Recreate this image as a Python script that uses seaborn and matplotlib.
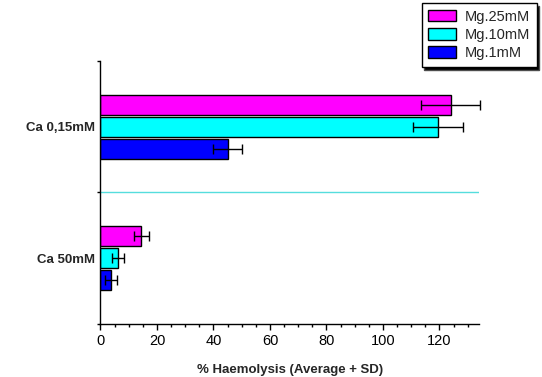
import numpy as np
import pandas as pd
import matplotlib
matplotlib.use("Agg")
import matplotlib.pyplot as plt
from matplotlib.ticker import MultipleLocator, FixedLocator
import seaborn as sns

# Data
calcium = ["Ca 0,15mM", "Ca 50mM"]
magnesium = ["Mg.25mM", "Mg.10mM", "Mg.1mM"]
mean_mg25 = [124.0, 14.5]
mean_mg10 = [119.6, 6.2]
mean_mg1 = [45.0, 3.8]
sd_mg25 = [10.5, 2.5]
sd_mg10 = [8.8, 2.0]
sd_mg1 = [5.2, 2.1]
colors = ["#ff00ff", "#00ffff", "#0000ff"]

df = pd.DataFrame({
    "calcium": calcium * 3,
    "magnesium": np.repeat(magnesium, len(calcium)),
    "haemolysis": mean_mg25 + mean_mg10 + mean_mg1,
    "sd": sd_mg25 + sd_mg10 + sd_mg1,
})

sns.set_style("white")
plt.rcParams["font.family"] = ["Liberation Sans", "DejaVu Sans"]

fig = plt.figure(figsize=(5.42, 3.77), dpi=100)
ax = fig.add_axes([0.1854, 0.1406, 0.6984, 0.6976])

sns.barplot(
    data=df, x="haemolysis", y="calcium", hue="magnesium",
    order=calcium, hue_order=magnesium, palette=colors,
    orient="h", errorbar=None, width=0.504, gap=0.09,
    edgecolor="black", linewidth=1.0, saturation=1, ax=ax, legend=False,
)

# error bars (mean + SD) placed on seaborn's bars
for cont, lvl in zip(ax.containers, magnesium):
    sub = df[df["magnesium"] == lvl].set_index("calcium").loc[calcium]
    ys = [p.get_y() + p.get_height() / 2 for p in cont.patches]
    eb = ax.errorbar(sub["haemolysis"], ys, xerr=sub["sd"], fmt="none",
                     ecolor="black", elinewidth=1.0, capsize=3.6, capthick=1.0, zorder=5)
    for art in eb.lines[1] + eb.lines[2]:
        art.set_clip_on(False)

ax.set_xlim(0, 134)
ax.set_ylim(1.5, -0.5)
ax.axhline(0.5, color="#55dddd", lw=1.0, zorder=1)

ax.xaxis.set_major_locator(MultipleLocator(20))
ax.xaxis.set_minor_locator(MultipleLocator(5))
ax.yaxis.set_minor_locator(FixedLocator([-0.5, 0.5, 1.5]))
ax.tick_params(axis="x", which="major", direction="out", length=4, width=1,
               colors="black", labelsize=10.5, pad=3, bottom=True)
ax.tick_params(axis="x", which="minor", direction="out", length=2.2, width=1,
               colors="black", bottom=True)
ax.tick_params(axis="y", which="major", length=0, labelsize=9.5, pad=4)
ax.tick_params(axis="y", which="minor", direction="out", length=2.2, width=1,
               colors="black", left=True)
for lab in ax.get_yticklabels():
    lab.set_fontweight("bold")

for side in ["top", "right"]:
    ax.spines[side].set_visible(False)
for side in ["left", "bottom"]:
    ax.spines[side].set_color("black")
    ax.spines[side].set_linewidth(1.0)

ax.set_ylabel("")
ax.set_xlabel("% Haemolysis (Average + SD)", fontsize=9.5, fontweight="bold", labelpad=12)

handles = [plt.Rectangle((0, 0), 1, 1, facecolor=c, edgecolor="black", lw=1.0) for c in colors]
leg = fig.legend(handles, magnesium, loc="upper right", bbox_to_anchor=(0.99, 0.992),
                 fontsize=10.5, frameon=True, fancybox=False, framealpha=1,
                 edgecolor="black", shadow={"facecolor": "black", "alpha": 1},
                 handlelength=1.9, handleheight=0.85, labelspacing=0.3,
                 handletextpad=0.6, borderpad=0.45, borderaxespad=0)
leg.get_frame().set_linewidth(1.0)

fig.savefig("out.png", dpi=100)
